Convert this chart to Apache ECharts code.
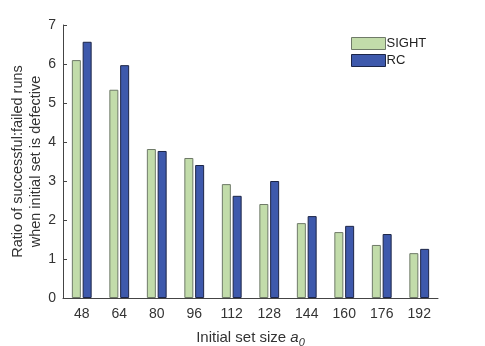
<!DOCTYPE html>
<html>
<head>
<meta charset="utf-8">
<script src="https://cdn.jsdelivr.net/npm/echarts@6/dist/echarts.min.js"></script>
<style>
html, body { margin: 0; padding: 0; background: #fff; }
#main { width: 485px; height: 346px; }
</style>
</head>
<body>
<div id="main"></div>
<script>
var sizes = ['48', '64', '80', '96', '112', '128', '144', '160', '176', '192'];
var sight = [6.10, 5.34, 3.82, 3.59, 2.92, 2.41, 1.92, 1.69, 1.36, 1.15];
var rc = [6.57, 5.97, 3.77, 3.41, 2.62, 3.00, 2.10, 1.85, 1.64, 1.26];
var yTicks = [0, 1, 2, 3, 4, 5, 6, 7];

var font = 'Liberation Sans, Arial, sans-serif';

option = {
    animation: false,
    textStyle: { fontFamily: font },
    grid: {
        left: 63,
        right: 47,
        top: 25,
        bottom: 48,
        outerBoundsMode: 'none',
        containLabel: false
    },
    legend: {
        left: 346,
        top: 32,
        orient: 'vertical',
        icon: 'rect',
        itemWidth: 34,
        itemHeight: 12,
        itemGap: 4,
        textStyle: { fontSize: 13, color: '#222', padding: [0, 0, 0, -4] },
        itemStyle: { borderWidth: 1 },
        data: ['SIGHT', 'RC']
    },
    xAxis: {
        type: 'category',
        data: sizes,
        axisLine: { lineStyle: { color: '#444', width: 1 } },
        axisTick: { show: false },
        axisLabel: { fontSize: 14, color: '#333', margin: 9 },
        name: '{n|Initial set size }{a|a}{s|0}',
        nameLocation: 'middle',
        nameGap: 30,
        nameTextStyle: {
            rich: {
                n: { fontSize: 15, color: '#333', fontFamily: font },
                a: { fontSize: 15, color: '#333', fontStyle: 'italic', fontFamily: font },
                s: { fontSize: 11, color: '#333', fontStyle: 'italic', fontFamily: font, padding: [9, 0, 0, 0] }
            }
        }
    },
    yAxis: {
        type: 'value',
        min: 0,
        max: 7,
        interval: 1,
        axisLine: { show: true, lineStyle: { color: '#444', width: 1 } },
        axisTick: { show: true, inside: true, length: 4, lineStyle: { color: '#444' } },
        splitLine: { show: false },
        axisLabel: {
            fontSize: 14,
            color: '#333',
            margin: 7,
            formatter: function (v) { return yTicks.indexOf(v) >= 0 ? String(v) : ''; }
        },
        name: 'Ratio of successful:failed runs\nwhen initial set is defective',
        nameLocation: 'middle',
        nameMoveOverlap: false,
        nameGap: 18,
        nameTextStyle: { fontSize: 14.5, color: '#333', lineHeight: 18 }
    },
    series: [
        {
            name: 'SIGHT',
            type: 'bar',
            data: sight,
            barWidth: 9,
            barGap: '20%',
            itemStyle: { color: '#c2dcaa', borderColor: '#6f7a68', borderWidth: 1 }
        },
        {
            name: 'RC',
            type: 'bar',
            data: rc,
            barWidth: 9,
            itemStyle: { color: '#3e59ac', borderColor: '#1c2547', borderWidth: 1 }
        }
    ]
};

var myChart = echarts.init(document.getElementById('main'));
myChart.setOption(option);
</script>
</body>
</html>
